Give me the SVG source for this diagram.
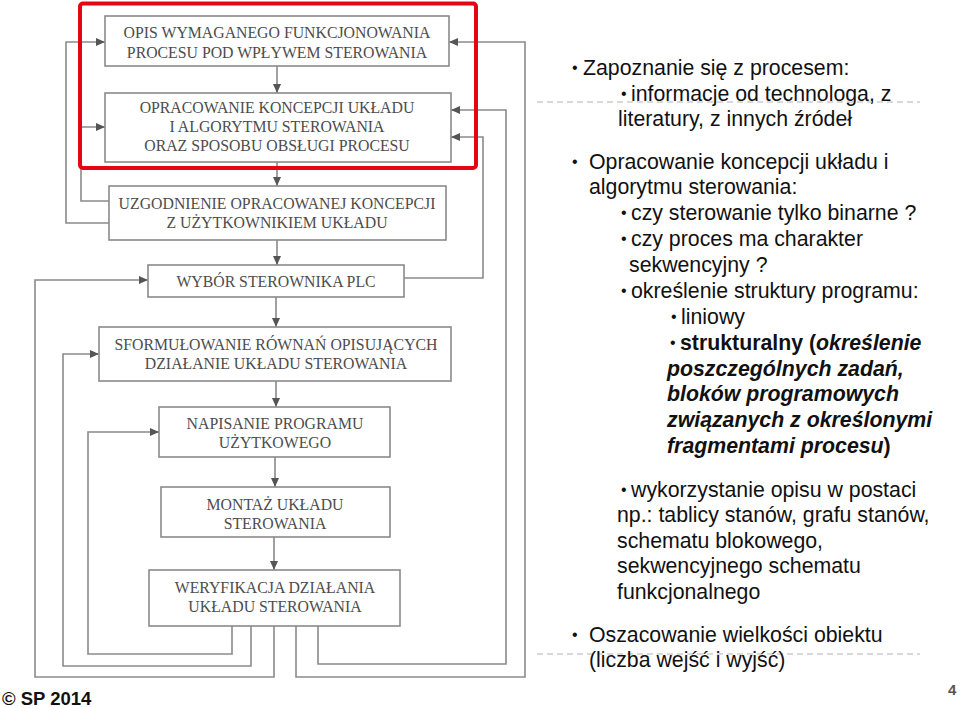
<svg xmlns="http://www.w3.org/2000/svg" width="960" height="708" viewBox="0 0 960 708">
<defs>
<marker id="ah" markerUnits="userSpaceOnUse" markerWidth="9" markerHeight="8" refX="9" refY="4" orient="auto">
<path d="M0,0 L9,4 L0,8 z" fill="#555"/>
</marker>
<style>
.box{fill:none;stroke:#8a8a8a;stroke-width:1.6}
.bt{font-family:"Liberation Serif","Times New Roman",serif;font-size:15.8px;fill:#4d4d4d;text-anchor:middle}
.con{fill:none;stroke:#8a8a8a;stroke-width:1.6;marker-end:url(#ah)}
.rt{font-family:"Liberation Sans",Arial,sans-serif;font-size:21.3px;fill:#111}
.bu{font-size:16px}
.b{font-weight:bold}
.bi{font-weight:bold;font-style:italic}
.dash{stroke:#b4b4b4;stroke-width:1.2;stroke-dasharray:6 4;fill:none}
</style>
</defs>
<rect width="960" height="708" fill="#fff"/>
<path class="dash" d="M537,102 H920"/>
<path class="dash" d="M537,654 H920"/>

<g id="connectors">
<path class="con" d="M277,66 V93"/>
<path class="con" d="M277,162 V186"/>
<path class="con" d="M277,240 V265"/>
<path class="con" d="M276,297 V327"/>
<path class="con" d="M276,381 V407"/>
<path class="con" d="M275,457 V487"/>
<path class="con" d="M274,537 V570"/>
<path class="con" d="M109,223 H66 V42 H105"/>
<path class="con" d="M109,201 H81 V127 H105"/>
<path class="con" d="M404,278 H483 V137 H451"/>
<path class="con" d="M318,626 V664 H506 V110 H451"/>
<path class="con" d="M296,626 V677 H525 V42 H449"/>
<path class="con" d="M274,626 V677 H35 V280 H148"/>
<path class="con" d="M251,626 V666 H63 V354 H99"/>
<path class="con" d="M232,626 V654 H88 V432 H159"/>
</g>

<g id="n1">
<rect class="box" x="105" y="16" width="344" height="50"/>
<text class="bt" x="277" y="38">OPIS WYMAGANEGO FUNKCJONOWANIA</text>
<text class="bt" x="277" y="58">PROCESU POD WPŁYWEM STEROWANIA</text>
</g>
<g id="n2">
<rect class="box" x="105" y="93" width="346" height="69"/>
<text class="bt" x="277" y="113">OPRACOWANIE KONCEPCJI UKŁADU</text>
<text class="bt" x="277" y="132">I ALGORYTMU STEROWANIA</text>
<text class="bt" x="277" y="151">ORAZ SPOSOBU OBSŁUGI PROCESU</text>
</g>
<g id="n3">
<rect class="box" x="109" y="186" width="337" height="54"/>
<text class="bt" x="277" y="209">UZGODNIENIE OPRACOWANEJ KONCEPCJI</text>
<text class="bt" x="277" y="228">Z UŻYTKOWNIKIEM UKŁADU</text>
</g>
<g id="n4">
<rect class="box" x="148" y="265" width="256" height="32"/>
<text class="bt" x="276" y="287">WYBÓR STEROWNIKA PLC</text>
</g>
<g id="n5">
<rect class="box" x="99" y="327" width="352" height="54"/>
<text class="bt" x="276" y="350">SFORMUŁOWANIE RÓWNAŃ OPISUJĄCYCH</text>
<text class="bt" x="276" y="369">DZIAŁANIE UKŁADU STEROWANIA</text>
</g>
<g id="n6">
<rect class="box" x="159" y="407" width="231" height="50"/>
<text class="bt" x="275" y="429">NAPISANIE PROGRAMU</text>
<text class="bt" x="275" y="448">UŻYTKOWEGO</text>
</g>
<g id="n7">
<rect class="box" x="161" y="487" width="229" height="50"/>
<text class="bt" x="275" y="510">MONTAŻ UKŁADU</text>
<text class="bt" x="275" y="529">STEROWANIA</text>
</g>
<g id="n8">
<rect class="box" x="149" y="570" width="251" height="56"/>
<text class="bt" x="275" y="593">WERYFIKACJA DZIAŁANIA</text>
<text class="bt" x="275" y="612">UKŁADU STEROWANIA</text>
</g>

<g id="highlight">
<rect x="80" y="3.5" width="396" height="164.5" rx="3" fill="none" stroke="#e30613" stroke-width="4"/>
</g>

<g id="notes" class="rt">
<text class="bu" x="572" y="73">•</text><text x="583" y="75">Zapoznanie się z procesem:</text>
<text class="bu" x="621" y="99">•</text><text x="631" y="101">informacje od technologa, z</text>
<text x="618" y="126">literatury, z innych źródeł</text>
<text class="bu" x="572" y="167">•</text><text x="589" y="169">Opracowanie koncepcji układu i</text>
<text x="589" y="194">algorytmu sterowania:</text>
<text class="bu" x="621" y="218">•</text><text x="631" y="220">czy sterowanie tylko binarne ?</text>
<text class="bu" x="621" y="244">•</text><text x="631" y="246">czy proces ma charakter</text>
<text x="629" y="272">sekwencyjny ?</text>
<text class="bu" x="621" y="296">•</text><text x="631" y="298">określenie struktury programu:</text>
<text class="bu" x="671" y="322">•</text><text x="681" y="324">liniowy</text>
<text class="bu" x="670" y="348">•</text><text x="680" y="350"><tspan class="b">strukturalny (</tspan><tspan class="bi">określenie</tspan></text>
<text x="667" y="376" class="bi">poszczególnych zadań,</text>
<text x="667" y="401" class="bi">bloków programowych</text>
<text x="667" y="427" class="bi">związanych z określonymi</text>
<text x="667" y="453"><tspan class="bi">fragmentami procesu</tspan><tspan class="b">)</tspan></text>
<text class="bu" x="621" y="495">•</text><text x="631" y="497">wykorzystanie opisu w postaci</text>
<text x="617" y="522">np.: tablicy stanów, grafu stanów,</text>
<text x="617" y="548">schematu blokowego,</text>
<text x="617" y="573">sekwencyjnego schematu</text>
<text x="617" y="599">funkcjonalnego</text>
<text class="bu" x="572" y="640">•</text><text x="589" y="642">Oszacowanie wielkości obiektu</text>
<text x="589" y="667">(liczba wejść i wyjść)</text>
</g>

<g id="footer">
<text x="2" y="705" font-family="'Liberation Sans',Arial,sans-serif" font-size="18.5px" font-weight="bold" fill="#111">© SP 2014</text>
<text x="948" y="695" font-family="'Liberation Sans',Arial,sans-serif" font-size="15px" font-weight="bold" fill="#555">4</text>
</g>
</svg>
